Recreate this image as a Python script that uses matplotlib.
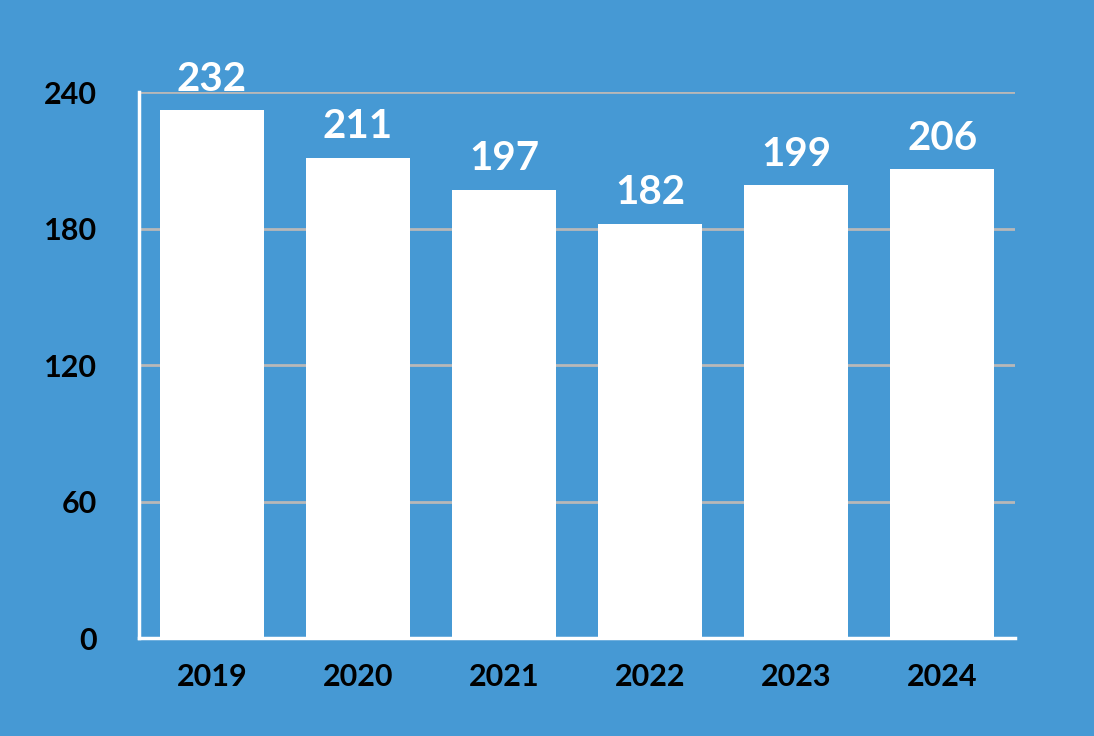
import matplotlib
matplotlib.use("Agg")
import matplotlib.pyplot as plt
import numpy as np

# === данные ===
years = ["2019", "2020", "2021", "2022", "2023", "2024"]
values = [232, 211, 197, 182, 199, 206]
yticks = [0, 60, 120, 180, 240]

bg = "#4699D4"

plt.rcParams["font.family"] = ["Lato", "DejaVu Sans"]

fig = plt.figure(figsize=(10.94, 7.36), dpi=100, facecolor=bg)
ax = fig.add_axes([0.127, 0.133, 0.801, 0.742], facecolor=bg)

x = np.arange(len(years))
bars = ax.bar(x, values, width=0.71, color="white", zorder=3)

for xi, v in zip(x, values):
    ax.annotate(str(v), (xi, v), xytext=(0, 9), textcoords="offset points",
                ha="center", va="bottom", color="white", fontsize=29,
                fontweight="bold", zorder=4)

ax.set_xlim(-0.5, len(years) - 0.5)
ax.set_ylim(0, 240)
ax.set_yticks(yticks)
ax.set_xticks(x)
ax.set_xticklabels(years)
ax.grid(axis="y", color="#B8B8B8", linewidth=2, zorder=1)
ax.tick_params(axis="both", length=0, labelsize=22, colors="black")
ax.tick_params(axis="x", pad=18)
ax.tick_params(axis="y", pad=30)
for lbl in ax.get_xticklabels() + ax.get_yticklabels():
    lbl.set_fontweight("bold")

for s in ["top", "right"]:
    ax.spines[s].set_visible(False)
for s in ["left", "bottom"]:
    ax.spines[s].set_color("white")
    ax.spines[s].set_linewidth(2.5)
    ax.spines[s].set_zorder(5)

fig.savefig("out.png", dpi=100, facecolor=bg)
